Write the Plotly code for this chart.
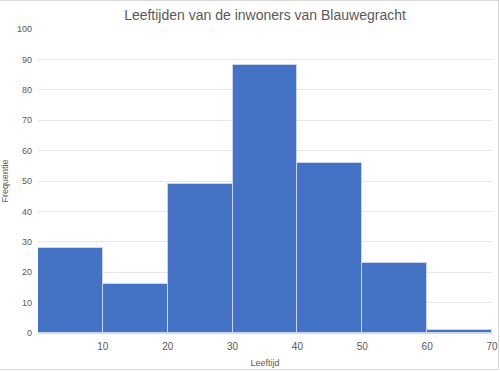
import plotly.graph_objects as go

bin_starts = [0, 10, 20, 30, 40, 50, 60]
bin_width = 10
frequencies = [28, 16, 49, 88, 56, 23, 1]
x_ticks = [10, 20, 30, 40, 50, 60, 70]
y_ticks = [0, 10, 20, 30, 40, 50, 60, 70, 80, 90, 100]

centers = [s + bin_width / 2 for s in bin_starts]

W, H = 500, 371
L, R, T, B = 38, 8, 29, 38
pw, ph = W - L - R, H - T - B

fig = go.Figure(go.Bar(
    x=centers, y=frequencies, width=[bin_width] * len(centers),
    marker=dict(color="#4472C4", line=dict(color="#C9D6EE", width=1)),
    hoverinfo="skip",
))

font = "Liberation Sans, Arial, sans-serif"
border = "#D9D9D9"
fig.update_layout(
    width=W, height=H,
    margin=dict(l=L, r=R, t=T, b=B, autoexpand=False),
    paper_bgcolor="white", plot_bgcolor="white",
    showlegend=False,
    title=dict(text="Leeftijden van de inwoners van Blauwegracht", x=0.5, xanchor="center",
               xref="paper", y=1 - 15 / H, yanchor="middle", automargin=False,
               font=dict(family=font, size=14, color="#595959")),
    bargap=0,
    font=dict(family=font, size=9, color="#595959"),
    shapes=[
        dict(type="line", xref="paper", yref="paper", x0=-L / pw, x1=1 + (R - 1) / pw,
             y0=1 + (T - 0.5) / ph, y1=1 + (T - 0.5) / ph, line=dict(color=border, width=1)),
        dict(type="line", xref="paper", yref="paper", x0=1 + (R - 1.5) / pw, x1=1 + (R - 1.5) / pw,
             y0=-(B - 1.5) / ph, y1=1 + T / ph, line=dict(color=border, width=1)),
        dict(type="line", xref="paper", yref="paper", x0=-L / pw, x1=1 + (R - 1) / pw,
             y0=-(B - 1.5) / ph, y1=-(B - 1.5) / ph, line=dict(color=border, width=1)),
    ],
)
fig.update_xaxes(range=[0, 70], tickvals=x_ticks, showgrid=False, zeroline=False,
                 showline=True, linecolor="#D9D9D9", linewidth=1, ticks="", automargin=False,
                 ticklabelstandoff=4,
                 title=dict(text="Leeftijd", font=dict(size=9, color="#595959"), standoff=8),
                 tickfont=dict(size=10, color="#595959"))
fig.update_yaxes(range=[0, 100], tickvals=y_ticks, showgrid=True, gridcolor="#E6E6E6",
                 gridwidth=1, zeroline=False, ticks="", automargin=False,
                 ticklabelstandoff=5,
                 title=dict(text="Frequentie", font=dict(size=9, color="#595959"), standoff=8),
                 tickfont=dict(size=9, color="#595959"))

fig.write_html("out.html", post_script="document.body.style.margin='0';",
               config=dict(displayModeBar=False))
